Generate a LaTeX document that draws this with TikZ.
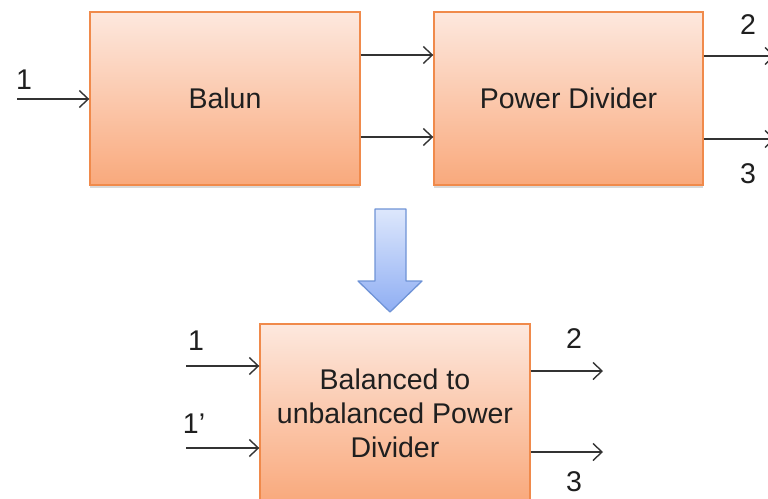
\documentclass[tikz,border=0pt]{standalone}
\usepackage{fontspec}
\setmainfont{Liberation Sans}
\usetikzlibrary{arrows.meta,shadows}
\definecolor{boxtop}{HTML}{FDE8DE}
\definecolor{boxbot}{HTML}{F9A97C}
\definecolor{boxline}{HTML}{F08A4B}
\definecolor{arrtop}{HTML}{DDE7FC}
\definecolor{arrbot}{HTML}{8FAEF3}
\definecolor{arrline}{HTML}{6F93D6}
\definecolor{wire}{HTML}{333333}
\tikzset{
  blockbox/.style={draw=boxline, line width=1.4pt, top color=boxtop, bottom color=boxbot,
    inner sep=0pt, align=center, font=\fontsize{28.5}{34}\selectfont, text=black!88,
    drop shadow={shadow xshift=0pt, shadow yshift=-2.5pt, opacity=0.25, fill=black!60}},
  portlbl/.style={inner sep=0pt, font=\fontsize{28.5}{34}\selectfont, text=black!88},
  wirearr/.style={draw=wire, line width=1.4pt, -{Straight Barb[length=9pt,width=17pt,line width=1.4pt]}}
}
\begin{document}
\begin{tikzpicture}[x=1pt,y=-1pt]
\useasboundingbox (0,0) rectangle (768,498);
\clip (0,0) rectangle (768,498);
% blocks
\node[blockbox, minimum width=270pt, minimum height=173pt] (balun) at (225,98.5) {Balun};
\node[blockbox, minimum width=269pt, minimum height=173pt] (pd) at (568.5,98.5) {Power Divider};
\node[blockbox, minimum width=270pt, minimum height=178pt] (bpd) at (395,413) {Balanced to\\unbalanced Power\\Divider};
% free ends
\coordinate (in1) at (17,99);
\coordinate (ya) at (0,55);
\coordinate (yb) at (0,137);
\coordinate (o2) at (775,56);
\coordinate (o3) at (775,139);
\coordinate (bi1) at (186,366);
\coordinate (bi2) at (186,448);
\coordinate (bo2) at (603,371);
\coordinate (bo3) at (603,452);
% connectors top
\draw[wirearr] (in1) -- (balun.west |- in1);
\draw[wirearr] (balun.east |- ya) -- (pd.west |- ya);
\draw[wirearr] (balun.east |- yb) -- (pd.west |- yb);
\draw[wirearr] (pd.east |- o2) -- (o2);
\draw[wirearr] (pd.east |- o3) -- (o3);
% connectors bottom
\draw[wirearr] (bi1) -- (bpd.west |- bi1);
\draw[wirearr] (bi2) -- (bpd.west |- bi2);
\draw[wirearr] (bpd.east |- bo2) -- (bo2);
\draw[wirearr] (bpd.east |- bo3) -- (bo3);
% labels
\node[portlbl] (l1) at (24,80) {1};
\node[portlbl] (l2) at (748,25) {2};
\node[portlbl] (l3) at (748,174) {3};
\node[portlbl] (m1) at (196,341) {1};
\node[portlbl] (m1p) at (194,424) {1’};
\node[portlbl] (m2) at (574,339) {2};
\node[portlbl] (m3) at (574,482) {3};
% big blue arrow
\shade[top color=arrtop, bottom color=arrbot, draw=arrline, line width=1.3pt, line join=round]
  (375,209) -- (406,209) -- (406,281) -- (422,281) -- (390,312) -- (358,281) -- (375,281) -- cycle;
\end{tikzpicture}
\end{document}
